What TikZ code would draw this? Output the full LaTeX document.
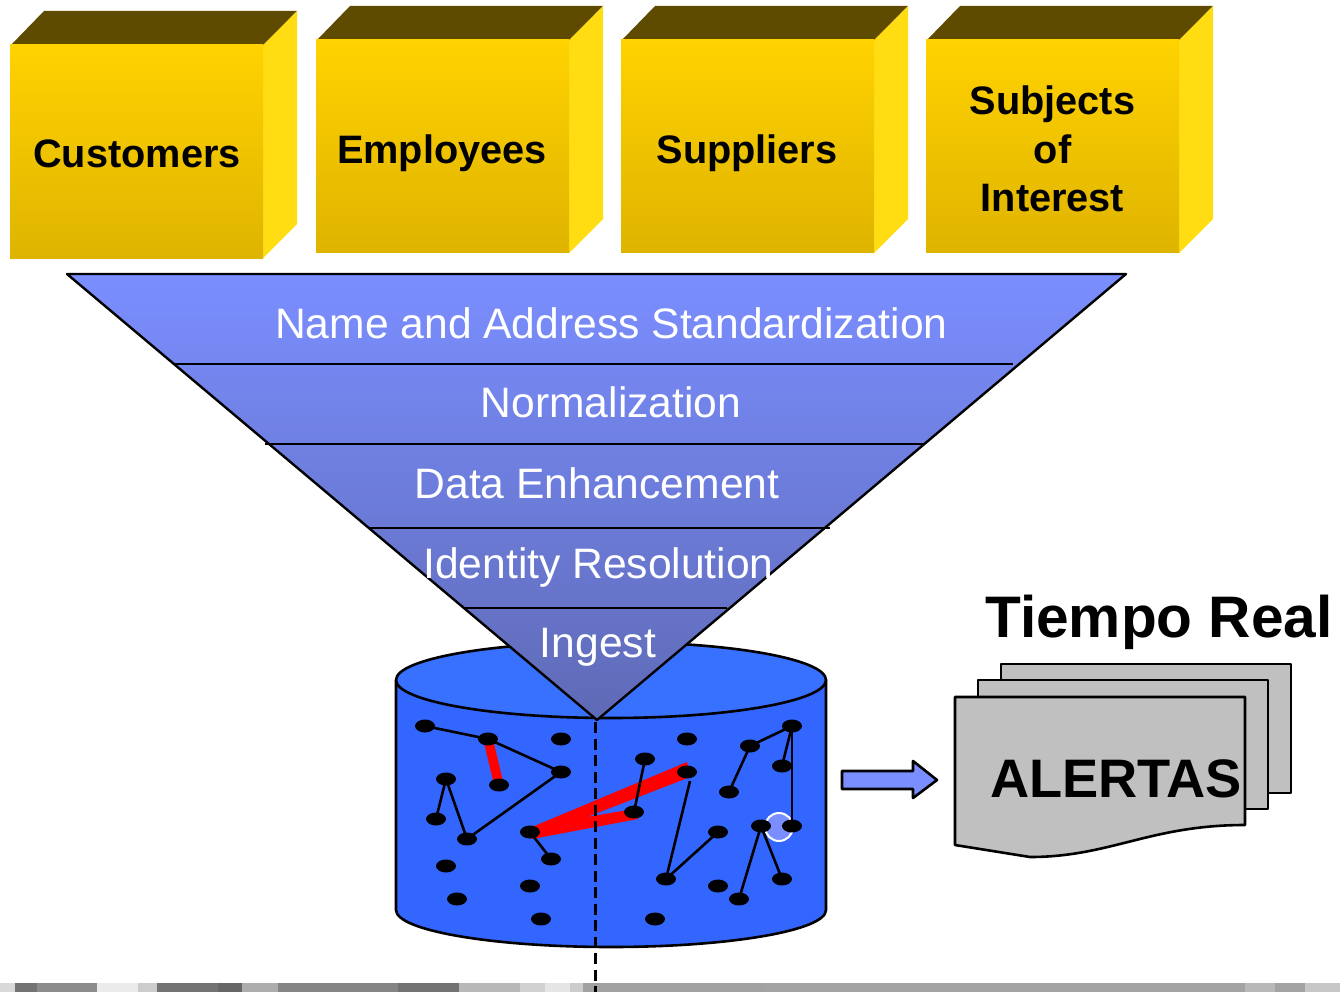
\documentclass[tikz,border=0pt]{standalone}
\usepackage{fontspec}
\setmainfont{Liberation Sans}
\usetikzlibrary{shapes.geometric,calc}
\pgfdeclarelayer{under}
\pgfsetlayers{under,main}
\definecolor{boxtop}{HTML}{FFD200}
\definecolor{boxbot}{HTML}{DFB400}
\definecolor{boxlid}{HTML}{5F4B00}
\definecolor{boxside}{HTML}{FFDD12}
\definecolor{funtop}{HTML}{7A8EFF}
\definecolor{funbot}{HTML}{5F6AB5}
\definecolor{cyl}{HTML}{3366FF}
\definecolor{cyltop}{HTML}{3870FF}
\definecolor{page}{HTML}{C0C0C0}
\tikzset{
  lab/.style={inner sep=0pt,anchor=base},
  boxlabel/.style={lab,font=\fontsize{39.7}{48.3}\selectfont\bfseries,text=black},
  funlabel/.style={lab,font=\fontsize{42.6}{50}\selectfont,text=white},
  dot/.style={ellipse,fill=black,draw=none,inner sep=0pt,minimum width=20pt,minimum height=13pt},
  link/.style={draw=black,line width=2.6pt},
  redlink/.style={draw=red,line width=9.5pt},
  outline/.style={draw=black,line width=2.6pt,line join=round},
}
\newcommand{\cube}[2]{% left x, top y of front face
  \fill[boxlid] (#1,#2+1) -- ++(34,-35) -- ++(253,0) -- ++(-34,35) -- cycle;
  \fill[boxside] (#1+253,#2) -- ++(34,-34) -- ++(0,213) -- ++(-34,34) -- cycle;
  \shade[top color=boxtop,bottom color=boxbot] (#1,#2) rectangle ++(253,213);
}
\begin{document}
\begin{tikzpicture}[x=1pt,y=-1pt]
\useasboundingbox (0,0) rectangle (1340,992);
% photo strip
\foreach \a/\b/\g in {0/15/85,15/37/45,37/97/55,97/138/92,138/157/80,157/218/45,218/242/40,242/278/68,278/398/52,398/459/45,459/520/72,520/545/82,545/570/90,570/583/80,583/765/63,765/1245/64,1245/1275/72,1275/1305/64,1305/1340/78}
  \fill[black!\the\numexpr100-\g\relax!white] (\a,983) rectangle (\b,992);
% boxes
\cube{10}{45}
\cube{316}{40}
\cube{621}{40}
\cube{926}{40}
\node[boxlabel] (customers) at (137,168) {Customers};
\node[boxlabel] (employees) at (442,164) {Employees};
\node[boxlabel] (suppliers) at (747,164) {Suppliers};
\node[boxlabel,anchor=center,align=center] (subjects) at (1052.5,149) {Subjects\\of\\Interest};
% cylinder
\begin{pgfonlayer}{under}
  \path[outline,fill=cyl] (396,680) -- (396,910) arc[start angle=180,end angle=0,x radius=215,y radius=37] -- (826,680) -- cycle;
  \path[outline,fill=cyltop] (611,680) ellipse[x radius=215,y radius=38];
  \path[draw=white,line width=2pt,fill=funtop] (779,827) circle[radius=14];
\end{pgfonlayer}
% dots
\foreach \n/\x/\y in {a1/425/726,a2/488/739,a3/561/739,a4/561/772,a5/499/785,a6/446/779,a7/436/819,a8/467/839,a9/530/832,a10/551/859,a11/446/866,a12/530/886,a13/457/899,a14/541/919,
  b1/645/759,b2/687/739,b3/687/772,b4/634/812,b5/750/746,b6/792/726,b7/782/766,b8/729/792,b9/718/832,b10/666/879,b11/718/886,b12/655/919,b13/761/826,b14/792/826,b15/782/879,b16/739/899}
  \node[dot] (\n) at (\x,\y) {};
% red links
\begin{pgfonlayer}{under}
  \draw[redlink] (a2.center) -- (a5.center);
  \fill[red] ($(a9)+(2,-5)$) -- ($(b3)+(0,-10)$) -- ($(b3)+(3,5)$) -- ($(b4)+(-47,5)$) -- ($(b4)+(0,-3)$) -- ($(b4)+(4,7)$) -- ($(a9)+(2,7)$) -- cycle;
\end{pgfonlayer}
% links
\foreach \p/\q in {a1/a2,a2/a4,a4/a8,a8/a6,a6/a7,a9/a10,b1/b4,b10/b9,b8/b5,b5/b6,b6/b7,b6/b14,b13/b15,b13/b16}
  \draw[link] (\p.center) -- (\q.center);
\coordinate (gap) at ($(b3)+(3,9)$);
\draw[link] (gap) -- (b10.center);
% funnel
\shadedraw[top color=funtop,bottom color=funbot,draw=black,line width=2.4pt,line join=round] (67,274) -- (1126,274) -- (597,720) -- cycle;
\coordinate (s1l) at (175,364); \coordinate (s1r) at (1013,364);
\coordinate (s2l) at (265,444); \coordinate (s2r) at (925,444);
\coordinate (s3l) at (368,528); \coordinate (s3r) at (830,528);
\coordinate (s4l) at (463,608); \coordinate (s4r) at (727,608);
\foreach \s in {1,2,3,4} \draw[black,line width=2.4pt] (s\s l) -- (s\s r);
\node[funlabel] (std) at (611.5,338) {Name and Address Standardization};
\node[funlabel] (norm) at (611,417) {Normalization};
\node[funlabel] (enh) at (597,498) {Data Enhancement};
\node[funlabel] (idr) at (598.5,578) {Identity Resolution};
\node[funlabel] (ing) at (598,657) {Ingest};
% axis
\coordinate (axtop) at (595.5,722); \coordinate (axbot) at (595.5,992);
\draw[black,line width=3pt,dash pattern=on 11pt off 5.5pt] (axtop) -- (axbot);
% arrow
\path[outline,fill=funtop] (842,771) -- (913,771) -- (913,761) -- (937,780) -- (913,798) -- (913,789) -- (842,789) -- cycle;
% alert pages
\path[outline,fill=page] (1001,664) rectangle (1291,793);
\path[outline,fill=page] (978,680) rectangle (1268,809);
\path[outline,fill=page] (955,697) -- (1245,697) -- (1245,825) .. controls (1150,825) and (1110,857) .. (1030,857) -- (955,845) -- cycle;
\node[lab,font=\fontsize{54.2}{60}\selectfont\bfseries] (alertas) at (1116,797) {ALERTAS};
\node[lab,font=\fontsize{58.6}{66}\selectfont\bfseries] (tiempo) at (1159,637) {Tiempo Real};
\end{tikzpicture}
\end{document}
